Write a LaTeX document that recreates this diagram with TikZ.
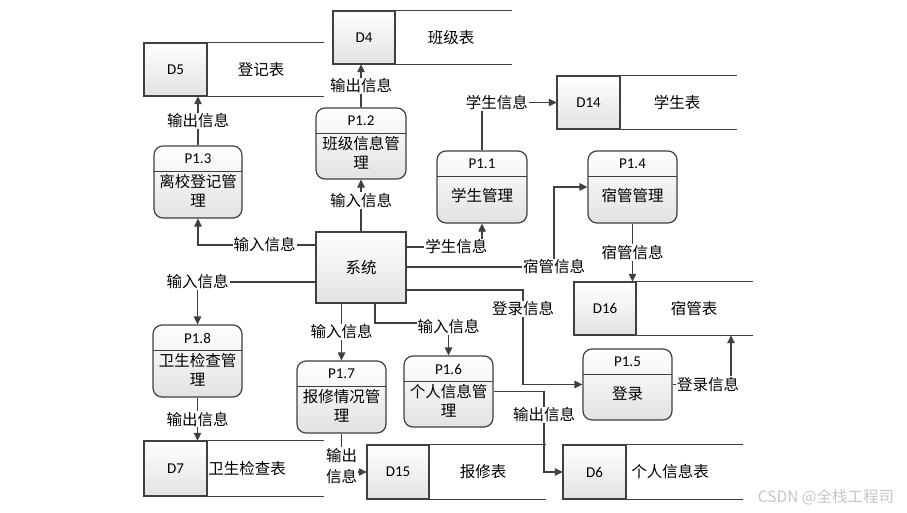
\documentclass[tikz,border=0pt]{standalone}
\usepackage{fontspec}
\setmainfont{Carlito}
\newfontfamily\cjk{Noto Sans CJK SC}
\usetikzlibrary{arrows.meta}
\definecolor{linec}{RGB}{64,64,64}
\definecolor{shadeb}{RGB}{226,226,226}
\tikzset{
  lineS/.style={draw=linec, line width=1.2pt},
  txt/.style={font=\cjk\fontsize{15.5}{19}\selectfont, inner sep=0pt, align=center},
  idtxt/.style={font=\fontsize{15}{18}\selectfont, inner sep=0pt},
  lab/.style={font=\cjk\fontsize{15.5}{21}\selectfont, fill=white, inner sep=1pt, align=center},
  flow/.style={lineS, -{Triangle[length=8pt,width=7.5pt]}},
  procshape/.style={lineS, rounded corners=9pt, top color=white, bottom color=shadeb, inner sep=0pt,
    path picture={
      \shade[top color=white, bottom color=shadeb] (path picture bounding box.north west) rectangle ([yshift=-25.5pt]path picture bounding box.north east);
      \draw[linec, line width=1.2pt] ([yshift=-25.5pt]path picture bounding box.north west) -- ([yshift=-25.5pt]path picture bounding box.north east);
    }},
  storebox/.style={lineS, top color=white, bottom color=shadeb, inner sep=0pt, font=\fontsize{15}{18}\selectfont},
  sysbox/.style={lineS, top color=white, bottom color=shadeb, inner sep=0pt, font=\cjk\fontsize{15.5}{19}\selectfont},
  wmark/.style={font=\cjk\fontsize{15.5}{19}\selectfont, text=gray!45, inner sep=0pt}
}
% #1 name, #2 left, #3 top, #4 right, #5 bottom, #6 id, #7 text
\newcommand\procbox[7]{%
  \pgfmathsetmacro\pbw{#4-#2}\pgfmathsetmacro\pbh{#5-#3}%
  \pgfmathsetmacro\pbx{(#2+#4)/2}\pgfmathsetmacro\pby{(#3+#5)/2}%
  \pgfmathsetmacro\pbi{#3+13}\pgfmathsetmacro\pbt{#3+45}%
  \node[procshape, minimum width=\pbw pt, minimum height=\pbh pt] (#1) at (\pbx,\pby) {};
  \node[idtxt] (#1id) at (\pbx,\pbi) {#6};
  \node[txt] (#1txt) at (\pbx,\pbt) {#7};
}
% #1 name, #2 left, #3 top, #4 bottom, #5 divider, #6 right, #7 id, #8 label, #9 label x
\newcommand\datastore[9]{%
  \pgfmathsetmacro\dsw{#6-#2}\pgfmathsetmacro\dsh{#4-#3}%
  \pgfmathsetmacro\dscx{(#2+#6)/2}\pgfmathsetmacro\dscy{(#3+#4)/2}%
  \pgfmathsetmacro\dsbw{#5-#2}\pgfmathsetmacro\dsbx{(#2+#5)/2}%
  \node[inner sep=0pt, minimum width=\dsw pt, minimum height=\dsh pt] (#1) at (\dscx,\dscy) {};
  \draw[lineS] (#1.north west) -- (#1.north east);
  \draw[lineS] (#1.south west) -- (#1.south east);
  \node[storebox, minimum width=\dsbw pt, minimum height=\dsh pt] (#1id) at (\dsbx,\dscy) {#7};
  \node[txt] (#1lab) at (#9,\dscy) {#8};
}
\begin{document}
\begin{tikzpicture}[x=1pt,y=-1pt]
\useasboundingbox[fill=white] (0,0) rectangle (907,513);

% data stores
\datastore{d4}{333}{11}{64}{395}{512}{D4}{班级表}{451}
\datastore{d5}{144}{43}{96}{207}{324}{D5}{登记表}{261}
\datastore{d14}{557}{76}{129}{620}{737}{D14}{学生表}{677}
\datastore{d16}{574}{282}{335}{636}{753}{D16}{宿管表}{694}
\datastore{d7}{144}{441}{496}{207}{324}{D7}{卫生检查表}{247}
\datastore{d15}{367}{445}{499}{429}{546}{D15}{报修表}{483}
\datastore{d6}{563}{445}{499}{626}{743}{D6}{个人信息表}{670}

% processes
\procbox{p13}{154}{146}{242}{218}{P1.3}{离校登记管\\理}
\procbox{p12}{316}{108}{406}{179}{P1.2}{班级信息管\\理}
\procbox{p11}{437}{151}{527}{223}{P1.1}{学生管理}
\procbox{p14}{588}{151}{677}{223}{P1.4}{宿管管理}
\procbox{p18}{153}{325}{242}{397}{P1.8}{卫生检查管\\理}
\procbox{p17}{297}{361}{386}{433}{P1.7}{报修情况管\\理}
\procbox{p16}{404}{356}{493}{427}{P1.6}{个人信息管\\理}
\procbox{p15}{583}{349}{672}{420}{P1.5}{登录}

% system
\node[sysbox, minimum width=90pt, minimum height=71pt] (sys) at (361,267.5) {系统};

% flows
\draw[flow] (sys.north) -- node[lab,pos=0.6]{输入信息} (p12.south);
\draw[flow] (p12.north) -- node[lab]{输出信息} (p12.north |- d4.south);
\draw[flow] (p13.north) -- node[lab]{输出信息} (p13.north |- d5.south);
\draw[flow] (sys.west |- 0,245) -| node[lab,pos=0.216]{输入信息} (p13.south);
\draw[flow] (sys.west |- 0,282) -| node[lab,pos=0.5]{输入信息} (p18.north);
\draw[flow] (p18.south) -- node[lab]{输出信息} (p18.south |- d7.north);
\draw[flow] (sys.east |- 0,247) -| node[lab,pos=0.33]{学生信息} (p11.south);
\draw[flow] (p11.north) |- node[lab,pos=0.6]{学生信息} (d14.west);
\draw[flow] (sys.east |- 0,267) -- (554,267) node[lab]{宿管信息} |- (p14.west);
\draw[flow] (p14.south) -- node[lab]{宿管信息} (p14.south |- d16.north);
\draw[flow] (sys.east |- 0,290) -- (523,290) |- node[lab,pos=0.1]{登录信息} (p15.west);
\draw[flow] (p15.east) -| node[lab,pos=0.305]{登录信息} (d16.south -| 731,0);
\draw[flow] (sys.south -| 375,0) |- (p16.north |- 0,323) node[lab,yshift=-4pt]{输入信息} -- (p16.north);
\draw[flow] (p17.north |- sys.south) -- node[lab]{输入信息} (p17.north);
\draw[flow] (p17.south) |- node[lab,pos=0.5,yshift=6pt]{输出\\信息} (d15.west);
\draw[flow] (p16.east) -- (544,391.5) |- node[lab,pos=0.146]{输出信息} (d6.west);

% watermark
\node[wmark] (wm) at (826,497) {CSDN @全栈工程司};
\end{tikzpicture}
\end{document}
